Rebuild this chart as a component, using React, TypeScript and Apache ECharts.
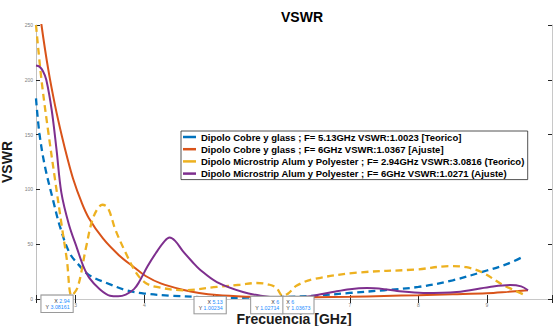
import React, { useEffect, useRef } from "react";
import * as echarts from "echarts";

const seriesNames = [
  "Dipolo Cobre y glass ; F= 5.13GHz VSWR:1.0023 [Teorico]",
  "Dipolo Cobre y glass ; F= 6GHz VSWR:1.0367 [Ajuste]",
  "Dipolo Microstrip Alum y Polyester ; F= 2.94GHz VSWR:3.0816 (Teorico)",
  "Dipolo Microstrip Alum y Polyester ; F= 6GHz VSWR:1.0271 (Ajuste)",
];

const colors = ["#0072BD", "#D95319", "#EDB120", "#7E2F8E"];

// x tick labels that are visible (5 and 6 are hidden behind data tips)
const visibleXTicks = [3, 4, 7, 8, 9];

// [frequency GHz, VSWR]
const cobreTeorico: number[][] = [
  [2.42, 183], [2.47, 151], [2.55, 121], [2.67, 90], [2.77, 66], [2.91, 42],
  [3.06, 30], [3.19, 22], [3.45, 14.6], [3.74, 8], [4.0, 5], [4.4, 3],
  [4.8, 1.8], [5.13, 1.00234], [5.5, 1.2], [6, 1.8], [6.5, 3], [7, 5.5],
  [7.5, 8], [8, 11], [8.5, 17], [9, 26], [9.3, 32], [9.54, 39],
];

const cobreAjuste: number[][] = [
  [2.42, 290], [2.5, 250], [2.6, 209], [2.7, 176], [2.8, 148], [2.88, 128],
  [2.96, 110], [3.08, 89], [3.19, 74], [3.4, 55], [3.63, 40], [3.85, 29],
  [4.02, 21], [4.25, 14], [4.56, 8.5], [4.8, 5.5], [5.06, 3.6], [5.54, 2],
  [6, 1.03673], [6.5, 1.5], [7, 2], [7.5, 2.8], [8, 3.5], [8.5, 4.3],
  [9, 5.2], [9.3, 6.5], [9.6, 8],
];

const microTeorico: number[][] = [
  [2.42, 250], [2.5, 200], [2.6, 152], [2.7, 108], [2.8, 65], [2.87, 36],
  [2.94, 3.08161], [3.03, 11], [3.15, 47], [3.26, 75], [3.39, 86], [3.47, 83],
  [3.58, 63], [3.73, 42], [3.88, 24], [4.02, 14.6], [4.18, 11], [4.56, 8],
  [5.06, 11], [5.4, 13], [5.64, 14.6], [5.83, 13], [5.93, 10], [6.02, 3],
  [6.1, 5], [6.22, 12], [6.46, 18], [7.1, 24], [7.98, 27], [8.46, 30],
  [8.7, 29], [8.94, 24], [9.23, 13], [9.58, 3],
];

const microAjuste: number[][] = [
  [2.42, 213], [2.47, 212], [2.52, 208], [2.57, 200], [2.65, 172], [2.72, 136],
  [2.79, 97], [2.9, 68], [3.02, 46], [3.11, 30], [3.2, 19], [3.35, 9],
  [3.5, 3], [3.62, 2.5], [3.73, 4], [3.85, 9], [3.92, 15], [4.05, 30],
  [4.17, 42], [4.3, 53], [4.37, 56], [4.45, 53], [4.56, 44], [4.7, 34],
  [4.81, 27], [5.06, 15.5], [5.44, 6.4], [5.7, 3], [6, 1.02714], [6.2, 1.2],
  [6.42, 2.5], [6.75, 6.4], [7, 9], [7.25, 10], [7.5, 9], [7.69, 7.3],
  [8.07, 5.5], [8.56, 6.4], [9.04, 11], [9.34, 12.8], [9.5, 11.5], [9.6, 8],
];

// datatips: [x, y, label X, label Y]
const tipYellow = [2.94, 3.08161, "2.94", "3.08161"];
const tipBlue = [5.13, 1.00234, "5.13", "1.00234"];
const tipPurple = [6, 1.02714, "6", "1.02714"];
const tipOrange = [6, 1.03673, "6", "1.03673"];

const FONT = "'Liberation Sans', Arial, Helvetica, sans-serif";

function tipMark(tip: any[], align: "left" | "right", off: number[]) {
  return {
    symbol: "rect",
    symbolSize: 0,
    silent: true,
    animation: false,
    data: [{ coord: [tip[0], tip[1]] }],
    label: {
      show: true,
      position: off,
      align,
      verticalAlign: "top",
      formatter: `{a|X }{b|${tip[2]}}\n{a|Y }{b|${tip[3]}}`,
      backgroundColor: "#ffffff",
      borderColor: "#9a9a9a",
      borderWidth: 1,
      padding: [2, 3, 2, 4],
      shadowColor: "rgba(0,0,0,0.2)",
      shadowBlur: 1.5,
      lineHeight: 6.2,
      rich: {
        a: { fontSize: 5.3, color: "#333", fontFamily: FONT, lineHeight: 6.2 },
        b: { fontSize: 5.3, color: "#1a8cff", fontFamily: FONT, lineHeight: 6.2 },
      },
    },
  };
}

export default function App() {
  const ref = useRef<HTMLDivElement>(null);
  useEffect(() => {
    if (!ref.current) return;
    const chart = echarts.init(ref.current, null, { renderer: "svg" });
    const mkLine = (
      name: string,
      data: number[][],
      color: string,
      dashed: boolean,
      markPoint: any
    ) => ({
      name,
      type: "line",
      data,
      smooth: 0.35,
      showSymbol: false,
      symbol: "none",
      clip: true,
      color,
      lineStyle: {
        color,
        width: dashed ? 2.3 : 2,
        type: dashed ? [7, 4.5] : "solid",
      },
      markPoint,
      z: 2,
    });
    chart.setOption({
      animation: false,
      backgroundColor: "#ffffff",
      textStyle: { fontFamily: FONT },
      title: {
        text: "VSWR",
        left: 276,
        top: 5,
        textStyle: { fontSize: 14, fontWeight: "bold", color: "#000", fontFamily: FONT },
      },
      grid: {
        left: 36,
        right: 2,
        top: 25,
        bottom: 27,
        containLabel: false,
        outerBoundsMode: "none",
      },
      legend: {
        orient: "vertical",
        left: 181,
        top: 131,
        icon: "rect",
        itemWidth: 13,
        itemHeight: 2.5,
        itemGap: 2.2,
        padding: [1, 3, 1, 2],
        borderColor: "#262626",
        borderWidth: 0.8,
        backgroundColor: "#ffffff",
        textStyle: {
          fontSize: 9.5,
          fontWeight: "bold",
          color: "#000",
          fontFamily: FONT,
          lineHeight: 9.5,
        },
        data: seriesNames,
      },
      xAxis: [
        {
          type: "value",
          min: 2.42,
          max: 9.95,
          splitNumber: 7,
          position: "bottom",
          name: "Frecuencia [GHz]",
          nameLocation: "middle",
          nameGap: 12,
          nameTextStyle: { fontSize: 14, fontWeight: "bold", color: "#1a1a1a", fontFamily: FONT },
          axisLine: { show: true, lineStyle: { color: "#262626", width: 1 } },
          axisTick: { show: true, inside: true, length: 4, lineStyle: { color: "#262626" } },
          axisLabel: {
            fontSize: 5,
            color: "#808080",
            margin: 3,
            formatter: (v: number) => {
              const r = Math.round(v);
              return Math.abs(v - r) < 1e-6 && visibleXTicks.indexOf(r) >= 0 ? String(r) : "";
            },
          },
          splitLine: { show: false },
        },
        {
          type: "value",
          min: 2.42,
          max: 9.95,
          splitNumber: 7,
          position: "top",
          axisLine: { show: true, lineStyle: { color: "#c8c8c8", width: 1 } },
          axisTick: { show: true, inside: true, length: 4, lineStyle: { color: "#262626" } },
          axisLabel: { show: false },
          splitLine: { show: false },
        },
      ],
      yAxis: [
        {
          type: "value",
          min: 0,
          max: 250,
          interval: 50,
          position: "left",
          name: "VSWR",
          nameLocation: "middle",
          nameGap: 13,
          nameRotate: 90,
          nameTextStyle: { fontSize: 14, fontWeight: "bold", color: "#1a1a1a", fontFamily: FONT },
          axisLine: { show: true, lineStyle: { color: "#c0c0c0", width: 1 } },
          axisTick: { show: true, inside: true, length: 4, lineStyle: { color: "#262626" } },
          axisLabel: { fontSize: 5, color: "#808080", margin: 3 },
          splitLine: { show: false },
        },
        {
          type: "value",
          min: 0,
          max: 250,
          interval: 50,
          position: "right",
          axisLine: { show: true, lineStyle: { color: "#c8c8c8", width: 1 } },
          axisTick: { show: true, inside: true, length: 4, lineStyle: { color: "#262626" } },
          axisLabel: { show: false },
          splitLine: { show: false },
        },
      ],
      series: [
        mkLine(seriesNames[0], cobreTeorico, colors[0], true, tipMark(tipBlue, "right", [4, -1])),
        mkLine(seriesNames[1], cobreAjuste, colors[1], false, tipMark(tipOrange, "left", [1, -1])),
        mkLine(seriesNames[2], microTeorico, colors[2], true, tipMark(tipYellow, "right", [1, 0])),
        mkLine(seriesNames[3], microAjuste, colors[3], false, tipMark(tipPurple, "right", [1, -1])),
      ],
    });
    return () => chart.dispose();
  }, []);
  return <div ref={ref} style={{ width: 554, height: 326, position: "absolute", left: 0, top: 0 }} />;
}
